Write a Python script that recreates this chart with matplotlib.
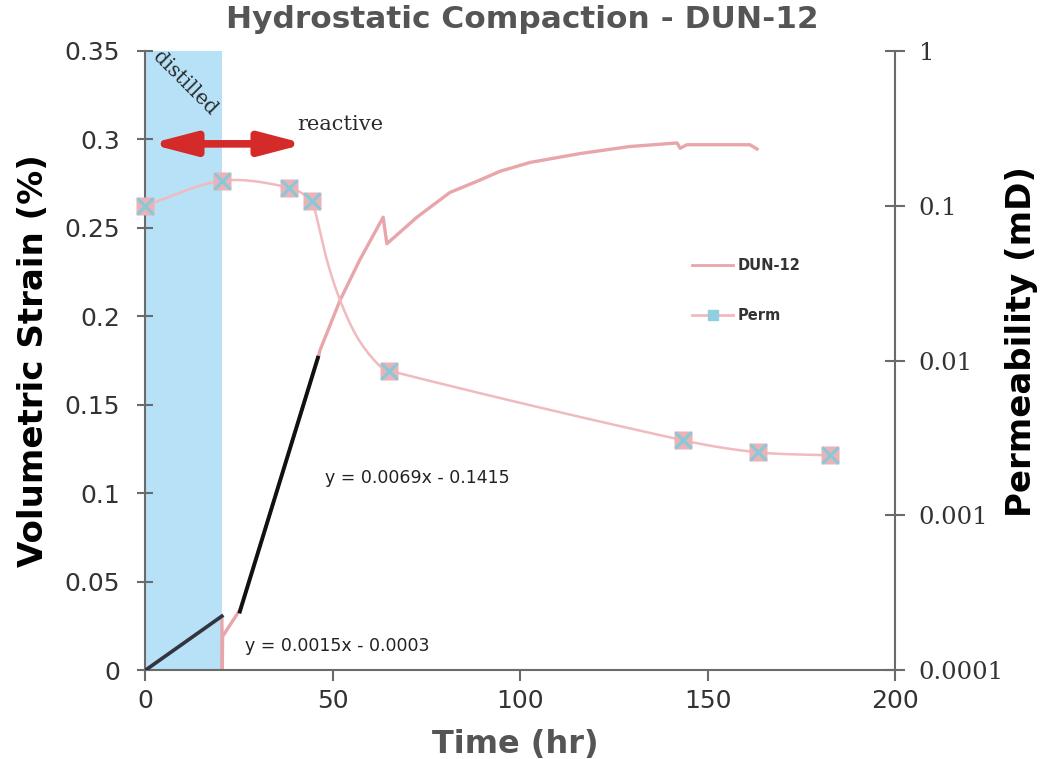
import numpy as np
import matplotlib.pyplot as plt
from matplotlib.lines import Line2D

# strain record (hr, %)
strain_t = [0, 10, 20.5, 20.6, 20.7, 25.3, 35, 46.1, 46.7, 52.0, 57.3, 63.5, 64.5,
            72.5, 81.3, 89.3, 94.7, 102.7, 116, 129.3, 141.9, 142.7, 144.5, 156,
            161.3, 163.2]
strain = [0, 0.0147, 0.0305, 0.0, 0.019, 0.034, 0.100, 0.176, 0.181, 0.209, 0.232,
          0.256, 0.241, 0.256, 0.270, 0.277, 0.282, 0.287, 0.292, 0.296, 0.298,
          0.295, 0.297, 0.297, 0.297, 0.2946]

# permeability measurements (hr, mD)
perm_t = [0, 20.5, 38.4, 44.5, 65, 143.5, 163.5, 182.7]
perm = [0.100, 0.145, 0.131, 0.108, 0.0086, 0.00305, 0.00255, 0.00244]
# permeability trace as drawn
perm_line_t = [0, 20.5, 38.4, 44.5, 45.3, 48.5, 52.0, 56.5, 61.8, 65, 143.5, 163.5, 182.7]
perm_line = [0.100, 0.145, 0.131, 0.108, 0.094, 0.0446, 0.0246, 0.01426, 0.00963,
             0.0086, 0.00305, 0.00255, 0.00244]

# linear fits
fit1 = (0.0015, -0.0003, 0, 20.5)
fit2 = (0.0069, -0.1415, 25.3, 46.1)

xticks = [0, 50, 100, 150, 200]
yticks = [0, 0.05, 0.1, 0.15, 0.2, 0.25, 0.3, 0.35]
ytick_labels = ['0', '0.05', '0.1', '0.15', '0.2', '0.25', '0.3', '0.35']
rticks = [0.0001, 0.001, 0.01, 0.1, 1]
rtick_labels = ['0.0001', '0.001', '0.01', '0.1', '1']

pink = '#e8a6aa'
perm_pink = '#f0babe'
spine_c = '#6b6b6b'


def smooth_curve(pts, n=40):
    # Hermite spline with chord-length parameter (display coords), no loops
    pts = np.asarray(pts, float)
    d = np.r_[0, np.cumsum(np.hypot(*np.diff(pts, axis=0).T))]
    m = np.zeros_like(pts)
    m[1:-1] = (pts[2:] - pts[:-2]) / (d[2:] - d[:-2])[:, None]
    m[0] = (pts[1] - pts[0]) / (d[1] - d[0])
    m[-1] = (pts[-1] - pts[-2]) / (d[-1] - d[-2])
    out = []
    s = np.linspace(0, 1, n)[:, None]
    h00 = 2 * s ** 3 - 3 * s ** 2 + 1
    h10 = s ** 3 - 2 * s ** 2 + s
    h01 = -2 * s ** 3 + 3 * s ** 2
    h11 = s ** 3 - s ** 2
    for i in range(len(pts) - 1):
        h = d[i + 1] - d[i]
        out.append(h00 * pts[i] + h10 * h * m[i] + h01 * pts[i + 1] + h11 * h * m[i + 1])
    return np.vstack(out)


fig = plt.figure(figsize=(10.49, 7.59), dpi=100)
ax = fig.add_axes([145 / 1049, 89 / 759, 750 / 1049, 619 / 759])
ax2 = ax.twinx()

ax.set_xlim(0, 200)
ax.set_ylim(0, 0.35)
ax2.set_yscale('log')
ax2.set_ylim(0.0001, 1)

# distilled band
ax.axvspan(0, 20.6, color='#b6e1f7', lw=0, zorder=0)

ax.plot(strain_t, strain, color=pink, lw=2.4, zorder=2)

xs = np.array([fit1[2], fit1[3]])
ax.plot(xs, fit1[0] * xs + fit1[1], color='#2e3640', lw=2.6, zorder=3)
xs = np.array([fit2[2], fit2[3]])
ax.plot(xs, fit2[0] * xs + fit2[1], color='#111111', lw=2.8, zorder=3)

ax.text(48, 0.1086, 'y = 0.0069x - 0.1415', fontsize=12.5, color='#222222', va='center')
ax.text(26.7, 0.0136, 'y = 0.0015x - 0.0003', fontsize=12.5, color='#222222', va='center')

ax.text(10.6, 0.332, 'distilled', family='DejaVu Serif', fontsize=14.5, rotation=-45,
        ha='center', va='center', color='#2a2a2a')
ax.text(52, 0.3085, 'reactive', family='DejaVu Serif', fontsize=15,
        ha='center', va='center', color='#2a2a2a')
ax.annotate('', xy=(1.2, 0.2975), xytext=(42.8, 0.2975),
            arrowprops=dict(arrowstyle='<|-|>,head_length=1.3,head_width=0.34',
                            mutation_scale=20, lw=5.5, color='#d42a2a',
                            shrinkA=0, shrinkB=0))

# permeability line, smoothed in screen space like the spreadsheet chart
disp = ax2.transData.transform(np.column_stack([perm_line_t, perm_line]))
smooth = ax2.transData.inverted().transform(smooth_curve(disp))
ax2.plot(smooth[:, 0], smooth[:, 1], color=perm_pink, lw=1.8, zorder=2)
ax2.plot(perm_t, perm, ls='none', marker='s', ms=13, mfc='#e9b3b8', mec='none',
         zorder=3, clip_on=False)
ax2.plot(perm_t, perm, ls='none', marker='x', ms=11, mew=2.2, color='#86c9d9',
         zorder=4, clip_on=False)

# axes styling
for a in (ax, ax2):
    a.spines['top'].set_visible(False)
    for s in ('left', 'right', 'bottom'):
        a.spines[s].set_color(spine_c)
        a.spines[s].set_linewidth(1.5)
ax.spines['right'].set_visible(False)
ax2.spines['left'].set_visible(False)
ax2.spines['bottom'].set_visible(False)

ax.set_xticks(xticks)
ax.set_xticklabels([str(v) for v in xticks], fontsize=18, color='#333333')
ax.set_yticks(yticks)
ax.set_yticklabels(ytick_labels, fontsize=18, color='#333333')
ax.tick_params(axis='y', direction='inout', length=12, width=1.5, color=spine_c, pad=12)
ax.tick_params(axis='x', direction='out', length=8, width=1.5, color=spine_c, pad=6)

ax2.set_yticks(rticks)
ax2.set_yticklabels(rtick_labels, fontsize=17.5, family='DejaVu Serif', color='#333333')
ax2.minorticks_off()
ax2.tick_params(axis='y', direction='inout', length=14, width=1.5, color=spine_c, pad=10)

ax.set_ylabel('Volumetric Strain (%)', fontsize=24.5, weight='bold', labelpad=10)
ax2.set_ylabel('Permeability (mD)', fontsize=24.5, weight='bold')
ax2.yaxis.set_label_coords(1.147, 0.53)

fig.text(522 / 1049, 1 - 20 / 759, 'Hydrostatic Compaction - DUN-12', fontsize=22.5,
         weight='bold', color='#555555', ha='center', va='center')
fig.text(515 / 1049, 1 - 744 / 759, 'Time (hr)', fontsize=23, weight='bold',
         color='#555555', ha='center', va='center')

handles = [Line2D([], [], color=pink, lw=2),
           Line2D([], [], color=perm_pink, lw=2, marker='s', ms=7, mfc='#8fcfe0', mec='#8fcfe0')]
fig.legend(handles, ['DUN-12', 'Perm'], loc='upper left',
           bbox_to_anchor=(679 / 1049, 1 - 245 / 759), frameon=False,
           prop=dict(size=10.5, weight='bold'),
           labelspacing=2.4, handlelength=2.8, handletextpad=0.3, labelcolor='#333333')

fig.savefig('out.png', dpi=100)
